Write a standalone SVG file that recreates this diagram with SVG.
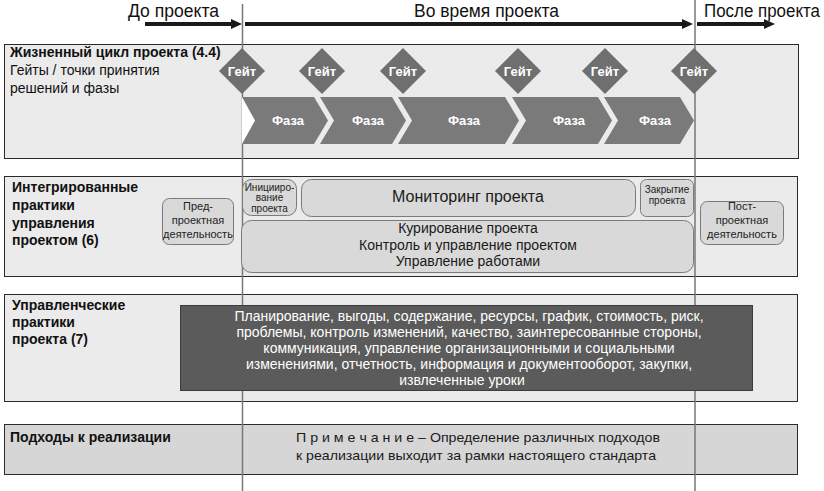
<svg xmlns="http://www.w3.org/2000/svg" width="824" height="491" viewBox="0 0 824 491">
<defs>
<marker id="ah" markerUnits="userSpaceOnUse" markerWidth="12" markerHeight="11" refX="2" refY="5" orient="auto">
<path d="M0,0 L11,5 L0,10 z" fill="#1a1a1a"/>
</marker>
<style>
text{font-family:"Liberation Sans",Arial,sans-serif;}
.band{fill:#ebebeb;stroke:#2a2a2a;stroke-width:1;}
.band4{fill:#d6d6d6;stroke:#2a2a2a;stroke-width:1;}
.title{font-size:14px;font-weight:bold;fill:#111;}
.sub{font-size:14px;fill:#111;}
.gate{fill:#6f6f6f;}
.gt{font-size:13px;font-weight:bold;fill:#fff;text-anchor:middle;}
.phase{fill:#7a7a7a;}
.box{fill:#d9d9d9;stroke:#7a7a7a;stroke-width:1;}
.sm{font-size:10px;fill:#222;text-anchor:middle;}
.md{font-size:11px;fill:#222;text-anchor:middle;}
.big{font-size:14px;fill:#1a1a1a;text-anchor:middle;}
.dark{fill:#5b5b5b;stroke:#3c3c3c;stroke-width:1;}
.wt{font-size:14px;fill:#fff;text-anchor:middle;}
.vline{stroke:#777;stroke-width:1.5;fill:none;}
.arr{stroke:#1a1a1a;stroke-width:4;fill:none;marker-end:url(#ah);}
.hdr{font-size:17.5px;fill:#111;}
</style>
</defs>

<g id="bands">
<g id="band-lifecycle">
<rect class="band" x="4.5" y="44.5" width="794" height="114"/>
<text class="title" x="10" y="57">Жизненный цикл проекта (4.4)</text>
<text class="sub" x="10" y="75">Гейты / точки принятия</text>
<text class="sub" x="10" y="92.5">решений и фазы</text>
</g>
<g id="band-integrated">
<rect class="band" x="4.5" y="176.5" width="793" height="100"/>
<text class="title" x="12" y="192">Интегрированные</text>
<text class="title" x="12" y="210">практики</text>
<text class="title" x="12" y="227.5">управления</text>
<text class="title" x="12" y="245">проектом (6)</text>
</g>
<g id="band-practices">
<rect class="band" x="4.5" y="294.5" width="793" height="107"/>
<text class="title" x="12" y="310">Управленческие</text>
<text class="title" x="12" y="327">практики</text>
<text class="title" x="12" y="344">проекта (7)</text>
</g>
<g id="band-approaches">
<rect class="band4" x="4.5" y="424.5" width="793" height="50"/>
<text class="title" x="10" y="442">Подходы к реализации</text>
</g>
</g>

<g id="connectors">
<line class="vline" x1="242.5" y1="4" x2="242.5" y2="491"/>
<line class="vline" x1="695" y1="0" x2="695" y2="491"/>
<line class="arr" x1="145" y1="24" x2="233" y2="24"/>
<line class="arr" x1="245" y1="24" x2="684" y2="24"/>
<line class="arr" x1="697" y1="24" x2="766" y2="24"/>
</g>

<g id="timeline-labels">
<text class="hdr" x="128" y="17" textLength="91" lengthAdjust="spacingAndGlyphs">До проекта</text>
<text class="hdr" x="414" y="17" textLength="145" lengthAdjust="spacingAndGlyphs">Во время проекта</text>
<text class="hdr" x="704" y="17" textLength="116" lengthAdjust="spacingAndGlyphs">После проекта</text>
</g>

<g id="phase1"><polygon class="phase" points="242,97 314,97 328,120.5 314,144 242,144"/><polygon points="242,97 255,120.5 242,144" fill="#fff"/><text class="gt" x="288" y="125">Фаза</text></g>
<g id="phase2"><polygon class="phase" points="320,97 392,97 406,120.5 392,144 320,144 334,120.5"/><text class="gt" x="368" y="125">Фаза</text></g>
<g id="phase3"><polygon class="phase" points="398,97 505,97 519,120.5 505,144 398,144 412,120.5"/><text class="gt" x="464" y="125">Фаза</text></g>
<g id="phase4"><polygon class="phase" points="512,97 598,97 612,120.5 598,144 512,144 526,120.5"/><text class="gt" x="569" y="125">Фаза</text></g>
<g id="phase5"><polygon class="phase" points="604,97 680,97 694,120.5 680,144 604,144 618,120.5"/><text class="gt" x="655" y="125">Фаза</text></g>

<g id="gate1"><polygon class="gate" points="242,48 265,71 242,94 219,71"/><text class="gt" x="242" y="76">Гейт</text></g>
<g id="gate2"><polygon class="gate" points="322,48 345,71 322,94 299,71"/><text class="gt" x="322" y="76">Гейт</text></g>
<g id="gate3"><polygon class="gate" points="403,48 426,71 403,94 380,71"/><text class="gt" x="403" y="76">Гейт</text></g>
<g id="gate4"><polygon class="gate" points="518,48 541,71 518,94 495,71"/><text class="gt" x="518" y="76">Гейт</text></g>
<g id="gate5"><polygon class="gate" points="605,48 628,71 605,94 582,71"/><text class="gt" x="605" y="76">Гейт</text></g>
<g id="gate6"><polygon class="gate" points="694,48 717,71 694,94 671,71"/><text class="gt" x="694" y="76">Гейт</text></g>

<g id="pre-project">
<rect class="box" x="162.5" y="198.5" width="71" height="46" rx="7"/>
<text class="md" x="198" y="210">Пред-</text>
<text class="md" x="198" y="224">проектная</text>
<text class="md" x="198" y="238">деятельность</text>
</g>
<g id="initiation">
<rect class="box" x="242.5" y="179.5" width="54" height="36" rx="9"/>
<text class="sm" x="269.5" y="190.5">Иницииро-</text>
<text class="sm" x="269.5" y="201">вание</text>
<text class="sm" x="269.5" y="211.5">проекта</text>
</g>
<g id="monitoring">
<rect class="box" x="301.5" y="179.5" width="334" height="37" rx="10"/>
<text x="468" y="202" style="font-size:16px;fill:#1a1a1a;text-anchor:middle">Мониторинг проекта</text>
</g>
<g id="closing">
<rect class="box" x="640.5" y="179.5" width="53" height="37" rx="6"/>
<text class="sm" x="667" y="193">Закрытие</text>
<text class="sm" x="667" y="204">проекта</text>
</g>
<g id="governance">
<rect class="box" x="241.5" y="220.5" width="452" height="52" rx="10"/>
<text class="big" x="468" y="233">Курирование проекта</text>
<text class="big" x="468" y="250">Контроль и управление проектом</text>
<text class="big" x="468" y="266">Управление работами</text>
</g>
<g id="post-project">
<rect class="box" x="700.5" y="201.5" width="83" height="43" rx="7"/>
<text class="md" x="742" y="210">Пост-</text>
<text class="md" x="742" y="224">проектная</text>
<text class="md" x="742" y="238">деятельность</text>
</g>

<g id="management-practices">
<rect class="dark" x="180.5" y="305.5" width="572" height="85"/>
<text class="wt" x="469" y="321">Планирование, выгоды, содержание, ресурсы, график, стоимость, риск,</text>
<text class="wt" x="469" y="337">проблемы, контроль изменений, качество, заинтересованные стороны,</text>
<text class="wt" x="469" y="353">коммуникация, управление организационными и социальными</text>
<text class="wt" x="469" y="369">изменениями, отчетность, информация и документооборот, закупки,</text>
<text class="wt" x="462" y="385">извлеченные уроки</text>
</g>

<g id="note">
<text x="296" y="442" style="font-size:13.5px;fill:#1a1a1a" textLength="364" lengthAdjust="spacingAndGlyphs">П р и м е ч а н и е – Определение различных подходов</text>
<text x="296" y="460" style="font-size:13.5px;fill:#1a1a1a" textLength="360" lengthAdjust="spacingAndGlyphs">к реализации выходит за рамки настоящего стандарта</text>
</g>
</svg>
